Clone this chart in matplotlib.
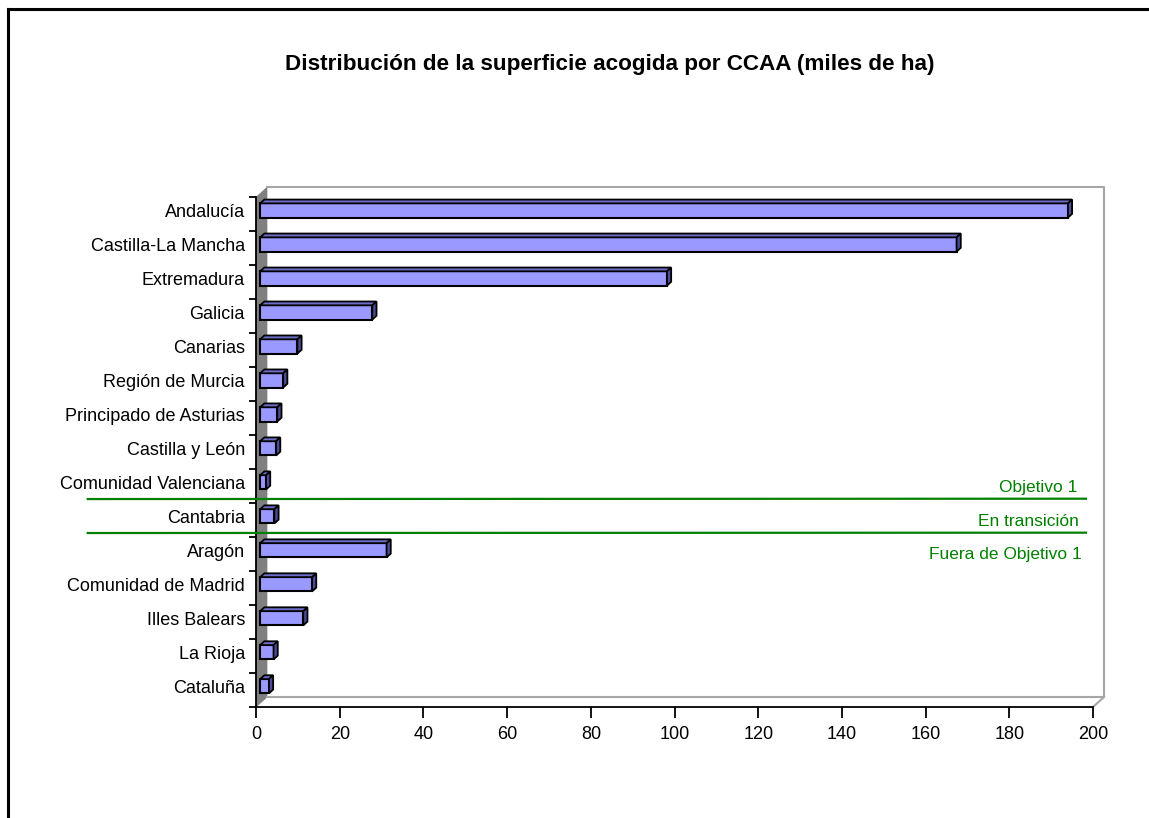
import matplotlib
matplotlib.use('Agg')
import matplotlib.pyplot as plt
from matplotlib.patches import Polygon
from matplotlib.lines import Line2D

plt.rcParams['font.family'] = ['Liberation Sans', 'DejaVu Sans']

# datos (miles de ha)
ccaa = ['Andalucía', 'Castilla-La Mancha', 'Extremadura', 'Galicia', 'Canarias',
        'Región de Murcia', 'Principado de Asturias', 'Castilla y León',
        'Comunidad Valenciana', 'Cantabria', 'Aragón', 'Comunidad de Madrid',
        'Illes Balears', 'La Rioja', 'Cataluña']
superficie = [193.0, 166.4, 97.2, 26.8, 8.9, 5.5, 4.1, 3.8, 1.4, 3.4,
              30.2, 12.4, 10.3, 3.2, 2.1]
xticks = [0, 20, 40, 60, 80, 100, 120, 140, 160, 180, 200]
grupos = ['Objetivo 1', 'En transición', 'Fuera de Objetivo 1']
cortes = [8.5, 9.5]  # separaciones entre grupos

fig = plt.figure(figsize=(11.49, 8.18), dpi=100)
ax = fig.add_axes([0.2228, 0.1357, 0.7285, 0.6231])

n = len(ccaa)
ax.set_xlim(0, 200)
ax.set_ylim(n - 0.5, -0.5)

# profundidad 3D en unidades de datos
dx = 11 / 4.185
dy = -10 / 34.0

# pared izquierda gris
pared = Polygon([(0, -0.5), (dx, -0.5 + dy), (dx, n - 0.5 + dy), (0, n - 0.5)],
                closed=True, facecolor='#808080', edgecolor='#808080', lw=0.5,
                clip_on=False, zorder=1)
ax.add_patch(pared)

# pared del fondo
gris = '#a6a6a6'
ax.plot([dx, 200 + dx, 200 + dx, dx], [-0.5 + dy, -0.5 + dy, n - 0.5 + dy, n - 0.5 + dy],
        color=gris, lw=1.5, clip_on=False, zorder=1)
ax.plot([200, 200 + dx], [n - 0.5, n - 0.5 + dy], color=gris, lw=1.5, clip_on=False, zorder=1)

# barras 3D
f1, f2 = 0.38, 0.76
h = 0.42
for i, v in enumerate(superficie):
    x0 = f1 * dx
    yc = i + f1 * dy
    top = yc - h / 2
    bot = yc + h / 2
    ddx = (f2 - f1) * dx
    ddy = (f2 - f1) * dy
    ax.barh(yc, v, left=x0, height=h, color='#9999ff', edgecolor='black', lw=1.5, zorder=3)
    ax.add_patch(Polygon([(x0, top), (x0 + v, top), (x0 + v + ddx, top + ddy), (x0 + ddx, top + ddy)],
                         closed=True, facecolor='#6e6ec8', edgecolor='black', lw=1.3, zorder=3,
                         clip_on=False))
    ax.add_patch(Polygon([(x0 + v, top), (x0 + v, bot), (x0 + v + ddx, bot + ddy), (x0 + v + ddx, top + ddy)],
                         closed=True, facecolor='#4c4c99', edgecolor='black', lw=1.3, zorder=3,
                         clip_on=False))

# ejes
for s in ['top', 'right']:
    ax.spines[s].set_visible(False)
ax.spines['left'].set_linewidth(1.3)
ax.spines['bottom'].set_linewidth(1.3)
ax.set_xticks(xticks)
ax.set_xticklabels([str(t) for t in xticks], fontsize=13)
ax.tick_params(axis='x', length=8, width=1.3, pad=6)
ax.set_yticks([i - 0.1 for i in range(n)])
ax.set_yticklabels(ccaa, fontsize=13)
ax.tick_params(axis='y', which='major', length=0, pad=8)
ax.set_yticks([i - 0.5 for i in range(n + 1)], minor=True)
ax.tick_params(axis='y', which='minor', length=5, width=1.3)

# lineas de grupos
verde = '#008000'
for c in cortes:
    ax.plot([-40.2, 198.3], [c - 0.12, c - 0.13], color=verde, lw=1.6, clip_on=False, zorder=4)
ax.text(196.3, 8.5 - 0.45, grupos[0], color=verde, fontsize=12.5, ha='right', va='center')
ax.text(196.5, 9.5 - 0.45, grupos[1], color=verde, fontsize=12.5, ha='right', va='center')
ax.text(197.2, 9.5 + 0.5, grupos[2], color=verde, fontsize=12.5, ha='right', va='center')

fig.text(0.531, 0.921, 'Distribución de la superficie acogida por CCAA (miles de ha)',
         ha='center', va='center', fontsize=16.2, fontweight='bold')

# marco
fig.add_artist(Line2D([8 / 1149, 8 / 1149], [0, 1 - 9 / 818], color='black', lw=2.2))
fig.add_artist(Line2D([8 / 1149, 1], [1 - 9 / 818, 1 - 9 / 818], color='black', lw=2.2))

plt.savefig('out.png', dpi=100)
